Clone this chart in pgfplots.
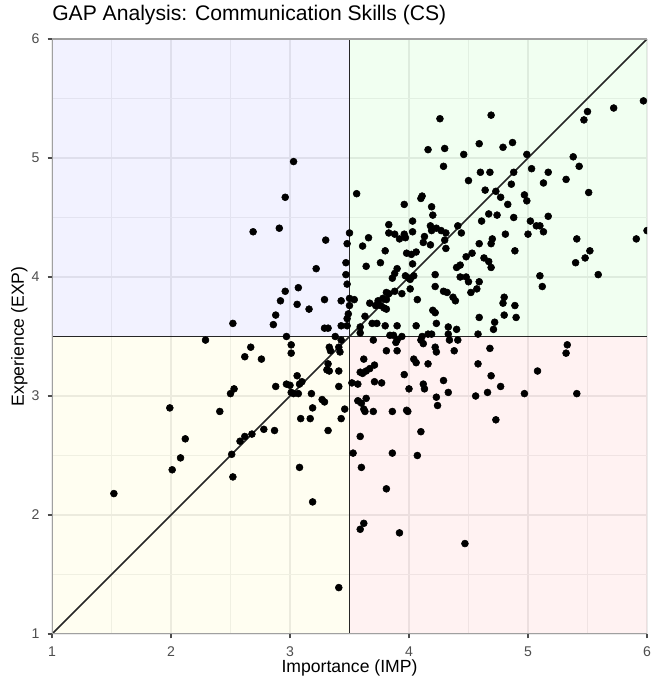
\documentclass[border=0pt]{standalone}
\usepackage{pgfplots}
\pgfplotsset{compat=1.18}
\usepackage{pgfplotstable}
\usepackage{fontspec}
\setmainfont{Liberation Sans}
\definecolor{gridmaj}{HTML}{EBEBEB}
\definecolor{tickgray}{HTML}{4D4D4D}
\definecolor{spine}{HTML}{A0A0A0}
\pgfplotstableread{
x y
4.26 5.33
4.16 5.07
4.30 5.08
4.29 4.93
3.03 4.97
2.96 4.67
3.56 4.70
4.11 4.68
4.10 4.66
3.96 4.61
4.19 4.59
4.20 4.52
2.69 4.38
2.91 4.41
3.30 4.31
3.50 4.37
3.66 4.33
3.83 4.44
3.83 4.37
3.88 4.36
3.96 4.36
3.97 4.33
4.03 4.47
4.03 4.38
4.13 4.34
4.18 4.43
4.19 4.39
4.23 4.41
4.27 4.39
4.31 4.37
5.97 5.48
5.72 5.42
5.50 5.39
5.47 5.32
4.69 5.36
4.59 5.12
4.79 5.09
4.87 5.13
4.46 5.03
4.99 5.03
5.38 5.01
5.43 4.93
4.60 4.88
4.68 4.88
4.88 4.88
5.03 4.91
5.17 4.88
4.50 4.81
4.86 4.78
5.13 4.79
5.32 4.82
5.51 4.71
4.64 4.73
4.73 4.72
4.77 4.67
4.97 4.69
4.99 4.64
4.83 4.61
4.67 4.53
4.74 4.52
4.88 4.50
5.17 4.51
4.61 4.47
5.02 4.47
5.07 4.43
5.10 4.43
4.41 4.43
4.44 4.37
4.81 4.36
5.00 4.36
5.13 4.38
4.70 4.32
5.41 4.32
5.91 4.32
6.00 4.39
4.69 4.28
4.59 4.28
5.52 4.22
5.48 4.16
5.40 4.12
5.59 4.02
4.89 4.22
4.53 4.20
4.48 4.17
4.63 4.16
4.67 4.13
4.69 4.08
4.43 4.10
4.40 4.08
4.31 4.24
4.43 4.00
4.48 4.00
4.50 3.96
4.59 3.96
4.57 3.90
4.52 3.87
4.32 3.87
4.37 3.83
4.39 3.80
5.10 4.01
5.12 3.92
4.80 3.83
4.79 3.78
4.89 3.76
4.59 3.66
4.80 3.68
4.90 3.66
4.72 3.62
4.71 3.56
4.40 3.56
4.58 3.52
4.33 3.52
4.34 3.47
4.41 3.47
4.38 3.38
4.68 3.40
5.33 3.43
5.32 3.36
4.58 3.27
5.08 3.21
4.69 3.17
4.77 3.08
4.66 3.03
4.33 3.03
4.56 3.00
4.97 3.02
5.41 3.02
4.73 2.80
4.47 1.76
2.52 3.61
2.29 3.47
2.67 3.41
2.62 3.33
2.53 3.06
2.50 3.02
1.99 2.90
2.41 2.87
2.12 2.64
2.62 2.66
2.68 2.68
2.08 2.48
2.01 2.38
1.52 2.18
2.51 2.51
2.52 2.32
2.58 2.62
3.08 2.40
3.19 2.11
3.41 1.39
3.59 2.66
3.53 2.52
3.86 2.52
4.07 2.50
3.60 2.40
3.81 2.22
3.62 1.93
3.59 1.88
3.92 1.85
3.48 4.28
3.61 4.26
3.80 4.22
3.92 4.32
4.12 4.29
4.18 4.27
4.30 4.31
3.98 4.20
4.02 4.19
4.06 4.21
3.47 4.12
3.76 4.12
3.64 4.09
4.03 4.11
3.22 4.07
3.47 4.02
3.90 4.07
3.88 4.03
3.86 3.99
3.97 4.01
4.00 3.99
4.01 3.98
4.04 4.01
4.22 4.02
3.48 3.94
3.07 3.91
2.96 3.88
4.01 3.90
4.22 3.92
3.81 3.87
3.83 3.86
3.88 3.88
3.94 3.86
4.29 3.88
3.29 3.81
3.43 3.80
3.50 3.82
3.54 3.81
2.92 3.80
3.06 3.77
3.16 3.73
3.50 3.76
3.67 3.78
3.74 3.80
3.72 3.76
3.76 3.76
3.78 3.82
3.81 3.81
3.79 3.74
3.81 3.73
4.07 3.81
4.20 3.72
4.22 3.70
3.49 3.69
3.48 3.65
2.88 3.68
2.86 3.60
3.63 3.67
3.29 3.57
3.32 3.57
3.43 3.59
3.48 3.59
3.59 3.58
3.69 3.61
3.73 3.61
3.80 3.59
3.90 3.59
4.06 3.59
4.16 3.52
4.11 3.50
4.23 3.61
4.33 3.58
2.97 3.50
3.38 3.50
3.43 3.47
3.59 3.53
3.70 3.47
3.84 3.51
3.87 3.51
3.90 3.47
3.89 3.45
3.94 3.50
3.90 3.38
4.10 3.47
4.12 3.44
4.19 3.52
4.22 3.41
4.23 3.37
3.01 3.43
3.01 3.36
3.33 3.41
3.34 3.38
3.41 3.41
3.42 3.37
3.81 3.38
2.76 3.31
3.62 3.31
4.04 3.31
4.06 3.28
4.16 3.27
3.32 3.27
3.71 3.26
3.67 3.23
3.64 3.21
3.61 3.19
3.31 3.22
3.33 3.21
3.41 3.21
3.59 3.20
3.96 3.18
4.29 3.13
3.06 3.17
2.97 3.10
3.00 3.09
3.10 3.12
3.08 3.10
3.52 3.11
3.57 3.10
3.71 3.12
3.77 3.11
4.12 3.10
4.13 3.06
4.00 3.06
2.88 3.08
3.01 3.03
3.03 3.02
3.07 3.02
3.18 3.02
3.41 3.08
4.23 2.99
3.27 2.97
3.29 2.95
3.57 2.96
3.60 2.94
3.64 2.98
3.19 2.90
3.46 2.89
3.62 2.89
3.63 2.87
3.70 2.87
3.86 2.87
3.98 2.88
3.99 2.87
4.24 2.92
3.09 2.81
3.17 2.81
3.43 2.81
2.78 2.72
2.87 2.71
3.32 2.71
4.10 2.70
}\pts
\begin{document}
\begin{tikzpicture}
\begin{axis}[
  at={(0,0)}, anchor=south west,
  scale only axis, width=446.25pt, height=446.25pt,
  xmin=1, xmax=6, ymin=1, ymax=6,
  xtick={1,2,3,4,5,6}, ytick={1,2,3,4,5,6},
  minor xtick={1.5,2.5,3.5,4.5,5.5},
  minor ytick={1.5,2.5,3.5,4.5,5.5},
  grid=both,
  major grid style={draw=gridmaj, line width=1.1pt},
  minor grid style={draw=gridmaj!75!white, line width=0.55pt},
  axis line style={draw=none},
  tick align=outside, tick pos=left,
  major tick length=3.3pt, minor tick length=0pt,
  major tick style={draw=tickgray, line width=0.8pt},
  /pgf/number format/assume math mode=true,
  ticklabel style={font=\fontsize{10.56}{12}\selectfont, text=tickgray},
  xticklabel style={anchor=north, inner sep=0pt, yshift=-6pt},
  yticklabel style={anchor=east, inner sep=0pt, xshift=-6pt},
  title={GAP Analysis: Communication Skills (CS)},
  title style={at={(0,1)}, anchor=base west, inner sep=0pt, yshift=8pt,
    font=\fontsize{15.84}{19}\selectfont},
  xlabel={Importance (IMP)},
  xlabel style={at={(0.5,0)}, anchor=base, inner sep=0pt, yshift=-28.5pt,
    font=\fontsize{13.2}{16}\selectfont},
  ylabel={Experience (EXP)},
  ylabel style={at={(0,0.5)}, anchor=base, inner sep=0pt, yshift=21pt,
    font=\fontsize{13.2}{16}\selectfont},
  clip=true,
]
\addplot[draw=none, fill=blue, fill opacity=0.05] coordinates {(1,3.5) (3.5,3.5) (3.5,6) (1,6)} -- cycle;
\addplot[draw=none, fill=green, fill opacity=0.055] coordinates {(3.5,3.5) (6,3.5) (6,6) (3.5,6)} -- cycle;
\addplot[draw=none, fill=yellow, fill opacity=0.055] coordinates {(1,1) (3.5,1) (3.5,3.5) (1,3.5)} -- cycle;
\addplot[draw=none, fill=red, fill opacity=0.05] coordinates {(3.5,1) (6,1) (6,3.5) (3.5,3.5)} -- cycle;
\addplot[black!85, line width=1.1pt] coordinates {(3.5,1) (3.5,6)};
\addplot[black!85, line width=1.1pt] coordinates {(1,3.5) (6,3.5)};
\addplot[black!85, line width=1.1pt] coordinates {(1,1) (6,6)};
\addplot[only marks, mark=*, mark size=2.6pt, black, clip mode=individual] table[x=x, y=y] {\pts};
\draw[spine, line width=1.1pt] (rel axis cs:0,1) -- (rel axis cs:0,0) -- (rel axis cs:1,0);
\draw[spine, line width=1.1pt] (rel axis cs:0,1) -- (rel axis cs:1,1);
\end{axis}
\pgfresetboundingbox
\path[use as bounding box] (-39pt,-34.5pt) rectangle (450pt,475.5pt);
\end{tikzpicture}
\end{document}
